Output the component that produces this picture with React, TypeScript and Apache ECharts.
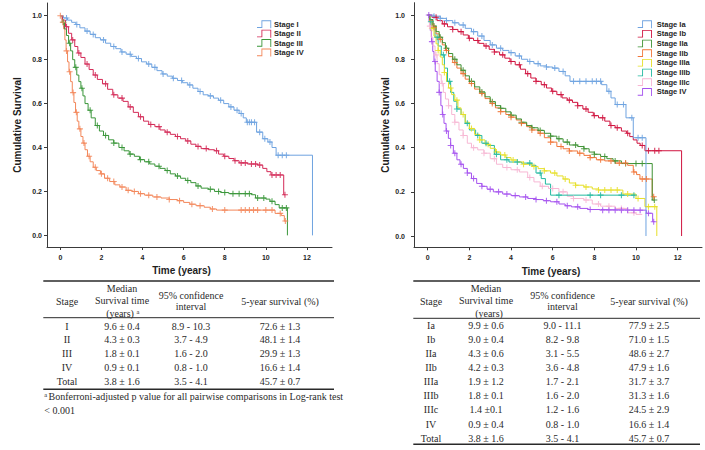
import React, { useEffect, useRef } from 'react';
import * as echarts from 'echarts';

type Pt = [number, number];

// ---------- Left panel (Stage I-IV) ----------
const leftNames = ['Stage I', 'Stage II', 'Stage III', 'Stage IV'];
const leftColors = ['#6fa3e0', '#d42a57', '#3a963a', '#f3875a'];

const leftStageI: Pt[] = [[0,1],[0.15,0.99],[0.35,0.98],[0.55,0.97],[0.75,0.96],[0.95,0.945],[1.2,0.93],[1.45,0.915],[1.7,0.9],[1.95,0.89],[2.2,0.875],[2.45,0.86],[2.7,0.85],[2.95,0.835],[3.2,0.825],[3.45,0.815],[3.7,0.805],[3.95,0.79],[4.2,0.78],[4.45,0.765],[4.7,0.75],[4.95,0.735],[5.2,0.725],[5.45,0.715],[5.7,0.705],[5.95,0.695],[6.2,0.685],[6.45,0.67],[6.7,0.655],[6.95,0.64],[7.2,0.635],[7.45,0.625],[7.7,0.615],[7.95,0.6],[8.2,0.585],[8.45,0.57],[8.7,0.555],[8.9,0.535],[9.05,0.515],[9.55,0.47],[9.85,0.44],[10.1,0.425],[10.3,0.4],[10.5,0.365],[12.27,0]];
const leftStageII: Pt[] = [[0,1],[0.1,0.98],[0.25,0.95],[0.4,0.92],[0.55,0.89],[0.7,0.86],[0.85,0.83],[1.0,0.81],[1.2,0.78],[1.4,0.755],[1.6,0.73],[1.8,0.71],[2.05,0.69],[2.3,0.665],[2.55,0.64],[2.8,0.625],[3.05,0.61],[3.3,0.585],[3.55,0.56],[3.8,0.54],[4.05,0.52],[4.3,0.505],[4.6,0.495],[4.85,0.48],[5.1,0.47],[5.35,0.46],[5.6,0.45],[5.85,0.44],[6.1,0.43],[6.35,0.415],[6.6,0.405],[6.85,0.395],[7.2,0.39],[7.5,0.385],[7.7,0.37],[7.95,0.36],[8.2,0.35],[8.45,0.34],[8.7,0.33],[9.1,0.325],[9.6,0.32],[9.85,0.305],[10.05,0.29],[10.25,0.275],[10.87,0.185],[10.95,0.185]];
const leftStageIII: Pt[] = [[0,1],[0.1,0.97],[0.2,0.94],[0.3,0.91],[0.4,0.875],[0.5,0.84],[0.6,0.8],[0.7,0.765],[0.8,0.73],[0.9,0.7],[1.0,0.67],[1.1,0.635],[1.2,0.6],[1.35,0.57],[1.5,0.535],[1.7,0.5],[1.9,0.475],[2.1,0.455],[2.35,0.435],[2.6,0.42],[2.85,0.4],[3.1,0.385],[3.35,0.37],[3.6,0.36],[3.85,0.345],[4.1,0.335],[4.35,0.325],[4.6,0.315],[4.85,0.305],[5.1,0.295],[5.35,0.28],[5.6,0.27],[5.85,0.26],[6.1,0.25],[6.35,0.24],[6.6,0.225],[6.85,0.215],[7.2,0.21],[7.5,0.2],[7.8,0.195],[8.2,0.19],[9.3,0.185],[9.5,0.17],[10.0,0.165],[10.2,0.155],[10.45,0.14],[10.65,0.125],[11.05,0]];
const leftStageIV: Pt[] = [[0,1],[0.08,0.97],[0.16,0.94],[0.22,0.89],[0.28,0.84],[0.35,0.79],[0.42,0.745],[0.5,0.7],[0.58,0.65],[0.66,0.605],[0.74,0.56],[0.82,0.52],[0.9,0.485],[1.0,0.45],[1.1,0.42],[1.2,0.39],[1.32,0.36],[1.45,0.335],[1.6,0.31],[1.75,0.295],[1.95,0.28],[2.15,0.26],[2.4,0.245],[2.65,0.23],[2.9,0.22],[3.2,0.205],[3.5,0.2],[3.8,0.19],[4.1,0.183],[4.5,0.175],[4.9,0.17],[5.3,0.163],[5.7,0.158],[6.0,0.15],[6.3,0.142],[6.6,0.135],[7.0,0.128],[7.3,0.12],[7.6,0.115],[10.45,0.1],[10.75,0.09],[10.9,0.065],[11.0,0.065]];

const leftCensorI = [0.3,0.8,1.3,1.6,2.1,2.6,3.0,3.4,3.8,4.3,4.6,5.0,5.5,5.9,6.3,6.8,7.3,7.8,8.3,8.6,8.8,9.1,9.2,9.3,9.45,9.7,9.95,10.2,10.6,10.8,11.0];
const leftCensorII = [0.3,0.6,0.9,1.3,1.7,2.2,2.6,3.0,3.4,3.9,4.4,4.8,5.2,5.7,6.2,6.7,7.1,7.6,8.0,8.5,8.8,9.0,9.3,9.5,9.7,10.3,10.5,10.7,10.93];
const leftCensorIII = [0.15,0.45,0.75,1.05,1.45,1.8,2.2,2.6,3.0,3.4,3.9,4.3,4.8,5.2,5.7,6.2,6.7,7.3,7.7,8.0,8.4,8.7,9.0,9.2,9.6,9.9,10.3,10.8,11.0];
const leftCensorIV = [0,0.12,0.3,0.45,0.62,0.78,0.95,1.15,1.4,1.7,2.0,2.3,2.6,3.0,3.3,3.6,3.9,4.3,4.7,5.3,5.8,6.4,6.8,7.4,8.0,8.8,9.0,9.2,9.4,9.6,10.0,10.3,10.7,10.95];

const leftCurves = [leftStageI, leftStageII, leftStageIII, leftStageIV];
const leftCensors = [leftCensorI, leftCensorII, leftCensorIII, leftCensorIV];

// ---------- Right panel (Stage Ia-IV) ----------
const rightNames = ['Stage Ia', 'Stage Ib', 'Stage IIa', 'Stage IIb', 'Stage IIIa', 'Stage IIIb', 'Stage IIIc', 'Stage IV'];
const rightColors = ['#6fa3e0', '#d0143f', '#3e9234', '#f1773a', '#e6df27', '#22b9a0', '#f7b7d4', '#a552ef'];

const rightStageIa: Pt[] = [[0,1],[0.3,0.995],[0.6,0.985],[0.9,0.975],[1.2,0.965],[1.5,0.955],[1.8,0.94],[2.1,0.925],[2.4,0.905],[2.7,0.885],[3.0,0.865],[3.3,0.85],[3.6,0.84],[3.9,0.83],[4.2,0.815],[4.5,0.8],[4.8,0.79],[5.1,0.78],[5.4,0.77],[5.7,0.765],[6.0,0.76],[6.3,0.745],[6.6,0.725],[6.83,0.7],[8.35,0.685],[8.6,0.655],[8.8,0.625],[9.0,0.595],[9.52,0.535],[9.87,0.445],[10.48,0]];
const rightStageIb: Pt[] = [[0,1],[0.2,0.99],[0.45,0.975],[0.7,0.96],[0.95,0.947],[1.2,0.935],[1.45,0.925],[1.7,0.91],[1.95,0.895],[2.2,0.885],[2.45,0.872],[2.7,0.86],[2.95,0.845],[3.2,0.833],[3.45,0.82],[3.7,0.805],[3.95,0.79],[4.2,0.775],[4.45,0.755],[4.7,0.735],[4.95,0.715],[5.2,0.7],[5.45,0.685],[5.7,0.67],[5.95,0.655],[6.2,0.64],[6.45,0.625],[6.7,0.615],[6.95,0.605],[7.2,0.59],[7.45,0.575],[7.7,0.56],[7.95,0.545],[8.2,0.535],[8.5,0.52],[8.75,0.5],[9.0,0.49],[9.3,0.475],[9.55,0.465],[9.7,0.45],[9.87,0.435],[10.05,0.42],[10.2,0.41],[10.43,0.386],[12.19,0]];
const rightStageIIa: Pt[] = [[0,1],[0.1,0.98],[0.25,0.95],[0.4,0.925],[0.55,0.9],[0.7,0.875],[0.85,0.85],[1.0,0.826],[1.2,0.8],[1.4,0.775],[1.6,0.75],[1.8,0.725],[2.0,0.7],[2.25,0.675],[2.5,0.652],[2.75,0.63],[3.0,0.608],[3.25,0.59],[3.5,0.578],[3.75,0.562],[4.0,0.547],[4.25,0.53],[4.5,0.515],[4.75,0.5],[5.0,0.49],[5.3,0.478],[5.6,0.465],[5.9,0.452],[6.2,0.44],[6.5,0.425],[6.8,0.412],[7.2,0.405],[7.5,0.395],[7.75,0.38],[8.0,0.37],[8.3,0.36],[8.6,0.35],[8.9,0.34],[9.3,0.328],[10.78,0.163],[10.9,0.163]];
const rightStageIIb: Pt[] = [[0,1],[0.1,0.975],[0.25,0.945],[0.4,0.915],[0.55,0.89],[0.7,0.865],[0.85,0.84],[1.0,0.812],[1.2,0.785],[1.4,0.76],[1.6,0.735],[1.8,0.71],[2.0,0.69],[2.25,0.665],[2.5,0.645],[2.75,0.622],[3.0,0.6],[3.25,0.58],[3.5,0.563],[3.75,0.55],[4.0,0.538],[4.25,0.525],[4.5,0.51],[4.75,0.495],[5.0,0.48],[5.3,0.465],[5.6,0.445],[5.9,0.425],[6.2,0.405],[6.5,0.395],[6.8,0.385],[7.2,0.375],[7.5,0.365],[7.8,0.355],[8.1,0.345],[8.5,0.34],[9.0,0.33],[9.6,0.32],[9.87,0.29],[10.03,0.278],[10.19,0.258],[10.78,0.178],[10.9,0.178]];
const rightStageIIIa: Pt[] = [[0,1],[0.1,0.97],[0.2,0.94],[0.3,0.905],[0.4,0.87],[0.5,0.84],[0.6,0.81],[0.7,0.775],[0.8,0.74],[0.9,0.7],[1.0,0.67],[1.15,0.64],[1.3,0.615],[1.45,0.58],[1.6,0.55],[1.8,0.515],[2.0,0.487],[2.25,0.46],[2.5,0.435],[2.75,0.415],[3.0,0.397],[3.25,0.38],[3.5,0.367],[3.75,0.355],[4.0,0.344],[4.3,0.335],[4.6,0.325],[5.0,0.315],[5.3,0.305],[5.6,0.295],[5.9,0.285],[6.2,0.272],[6.5,0.258],[6.8,0.24],[7.1,0.23],[7.5,0.222],[7.9,0.213],[8.2,0.208],[9.37,0.19],[10.0,0.17],[10.43,0.133],[11.0,0]];
const rightStageIIIb: Pt[] = [[0,1],[0.1,0.97],[0.2,0.94],[0.35,0.9],[0.5,0.86],[0.65,0.82],[0.8,0.76],[0.95,0.7],[1.1,0.65],[1.25,0.61],[1.4,0.575],[1.6,0.55],[1.8,0.51],[2.0,0.48],[2.3,0.455],[2.6,0.42],[2.9,0.41],[3.2,0.37],[3.5,0.345],[3.9,0.335],[4.5,0.33],[5.0,0.32],[5.2,0.285],[5.45,0.26],[5.65,0.235],[5.9,0.185],[9.95,0.185]];
const rightStageIIIc: Pt[] = [[0,1],[0.08,0.95],[0.16,0.9],[0.25,0.86],[0.35,0.82],[0.45,0.78],[0.55,0.73],[0.65,0.69],[0.75,0.65],[0.85,0.62],[1.0,0.59],[1.15,0.55],[1.3,0.515],[1.5,0.48],[1.7,0.455],[1.9,0.42],[2.1,0.4],[2.4,0.39],[2.7,0.375],[3.0,0.35],[3.3,0.325],[3.6,0.31],[4.0,0.3],[4.4,0.29],[4.8,0.265],[5.1,0.245],[5.4,0.225],[5.8,0.215],[6.3,0.2],[6.7,0.18],[7.0,0.17],[7.5,0.163],[7.9,0.145],[8.3,0.135],[9.0,0.125],[9.6,0.105],[10.0,0.098],[10.3,0.098]];
const rightStageIV: Pt[] = [[0,1],[0.06,0.97],[0.12,0.93],[0.18,0.88],[0.24,0.835],[0.3,0.79],[0.36,0.745],[0.45,0.7],[0.55,0.65],[0.63,0.59],[0.7,0.55],[0.78,0.51],[0.88,0.475],[0.99,0.442],[1.1,0.41],[1.23,0.375],[1.4,0.345],[1.55,0.325],[1.71,0.306],[1.9,0.285],[2.1,0.26],[2.35,0.238],[2.6,0.225],[2.85,0.212],[3.15,0.2],[3.6,0.19],[4.0,0.183],[4.4,0.177],[4.8,0.17],[5.2,0.165],[5.55,0.16],[5.9,0.155],[6.3,0.145],[6.6,0.137],[6.9,0.132],[7.3,0.125],[7.7,0.12],[8.3,0.117],[10.5,0.103],[10.8,0.065],[10.9,0.065]];

const rightCensorIa = [0.3,0.6,0.9,1.3,1.7,2.2,2.6,3.1,3.5,4.0,4.4,4.9,5.3,5.7,6.1,6.5,7.0,7.3,7.6,7.9,8.1,8.3,8.7,9.1,9.4,9.8,10.1,10.3];
const rightCensorIb = [0.4,0.8,1.2,1.6,2.0,2.4,2.8,3.2,3.6,4.0,4.4,4.8,5.2,5.6,6.0,6.4,6.8,7.2,7.6,8.0,8.4,8.8,9.1,9.6,10.3,10.6,10.9,11.1];
const rightCensorIIa = [0.3,0.6,0.9,1.3,1.7,2.1,2.6,3.1,3.5,4.0,4.5,5.0,5.4,5.9,6.3,6.7,7.1,7.5,8.0,8.5,9.0,9.5,10.0,10.3,10.88];
const rightCensorIIb = [0.3,0.6,0.9,1.3,1.7,2.1,2.6,3.1,3.5,4.0,4.5,5.0,5.4,5.9,6.4,6.8,7.3,7.8,8.3,8.8,9.2,9.5,9.9,10.3,10.5,10.85];
const rightCensorIIIa = [0.2,0.5,0.8,1.1,1.4,1.7,2.1,2.5,2.9,3.3,3.7,4.1,4.6,5.1,5.6,6.1,6.6,7.1,7.6,8.2,8.5,8.8,9.1,9.6,10.1,10.6,10.9];
const rightCensorIIIb = [0.15,0.45,0.75,1.05,1.4,1.9,2.4,2.8,3.3,3.8,4.3,4.9,5.4,6.3,7.8,8.3,9.3,9.9];
const rightCensorIIIc = [0.1,0.4,0.7,1.0,1.3,1.7,2.2,2.7,3.2,3.8,4.3,4.9,5.5,6.0,6.5,7.0,7.6,8.2,8.7,9.3,9.9];
const rightCensorIV = [0.05,0.2,0.35,0.55,0.72,0.9,1.1,1.3,1.6,1.9,2.2,2.6,3.0,3.4,3.8,4.2,4.7,5.2,5.7,6.2,6.7,7.2,7.8,8.4,8.7,9.0,9.3,9.6,9.9,10.2,10.6,10.85];

const rightCurves = [rightStageIa, rightStageIb, rightStageIIa, rightStageIIb, rightStageIIIa, rightStageIIIb, rightStageIIIc, rightStageIV];
const rightCensors = [rightCensorIa, rightCensorIb, rightCensorIIa, rightCensorIIb, rightCensorIIIa, rightCensorIIIb, rightCensorIIIc, rightCensorIV];

// ---------- Axis ticks ----------
const xTickValues = [0, 2, 4, 6, 8, 10, 12];
const yTickValues = [0, 0.2, 0.4, 0.6, 0.8, 1.0];

// ---------- Tables ----------
const leftTableHeader = ['Stage', 'Median|Survival time|(years)', '95% confidence|interval', '5-year survival (%)'];
const leftTableStages = ['I', 'II', 'III', 'IV', 'Total'];
const leftTableMedian = ['9.6 ± 0.4', '4.3 ± 0.3', '1.8 ± 0.1', '0.9 ± 0.1', '3.8 ± 1.6'];
const leftTableCI = ['8.9 - 10.3', '3.7 - 4.9', '1.6 - 2.0', '0.8 - 1.0', '3.5 - 4.1'];
const leftTable5yr = ['72.6 ± 1.3', '48.1 ± 1.4', '29.9 ± 1.3', '16.6 ± 1.4', '45.7 ± 0.7'];
const leftFootnote = ['Bonferroni-adjusted p value for all pairwise comparisons in Log-rank test', '< 0.001'];

const rightTableStages = ['Ia', 'Ib', 'IIa', 'IIb', 'IIIa', 'IIIb', 'IIIc', 'IV', 'Total'];
const rightTableMedian = ['9.9 ± 0.6', '9.0 ± 0.4', '4.3 ± 0.6', '4.2 ± 0.3', '1.9 ± 1.2', '1.8 ± 0.1', '1.4 ±0.1', '0.9 ± 0.4', '3.8 ± 1.6'];
const rightTableCI = ['9.0 - 11.1', '8.2 - 9.8', '3.1 - 5.5', '3.6 - 4.8', '1.7 - 2.1', '1.6 - 2.0', '1.2 - 1.6', '0.8 - 1.0', '3.5 - 4.1'];
const rightTable5yr = ['77.9 ± 2.5', '71.0 ± 1.5', '48.6 ± 2.7', '47.9 ± 1.6', '31.7 ± 3.7', '31.3 ± 1.6', '24.5 ± 2.9', '16.6 ± 1.4', '45.7 ± 0.7'];

// ---------- helpers ----------
function survivalAt(curve: Pt[], t: number): number {
  let s = curve[0][1];
  for (const [ti, si] of curve) {
    if (ti <= t) s = si;
    else break;
  }
  return s;
}

const plusSymbol = 'path://M4.1,0H5.9V4.1H10V5.9H5.9V10H4.1V5.9H0V4.1H4.1Z';
const stepIcon = 'path://M0,7.6L5,7.6L5,0L16,0L16,9L15,9L15,1L6,1L6,8.6L0,8.6Z';
const sansFont = "'Liberation Sans', Arial, sans-serif";
const serifFont = "'Liberation Serif', 'Times New Roman', serif";
const axisColor = '#3a3a3a';
const textColor = '#1e1e1e';
const tableColor = '#2a2a2a';

function isTick(v: number, list: number[]) {
  return list.some((t) => Math.abs(t - v) < 1e-6);
}

function makeAxes(gridIndex: number, xr: [number, number], yr: [number, number], yLabelMargin: number, nameGap: number, xNamePad: number) {
  const x = {
    type: 'value', gridIndex, min: xr[0], max: xr[1], splitNumber: 7, minInterval: 2, maxInterval: 2,
    name: 'Time (years)', nameLocation: 'middle', nameGap: 18,
    nameTextStyle: { fontFamily: sansFont, fontWeight: 'bold', fontSize: 10, color: textColor, padding: [0, xNamePad, 0, 0] },
    axisLine: { show: true, onZero: false, lineStyle: { color: axisColor, width: 1 } },
    axisTick: { show: true, length: 3, lineStyle: { color: axisColor } },
    axisLabel: {
      show: true, margin: 7, fontFamily: sansFont, fontWeight: 'bold', fontSize: 7, color: textColor,
      showMinLabel: false, showMaxLabel: false,
      formatter: (v: number) => (isTick(v, xTickValues) ? String(Math.round(v)) : ''),
    },
    splitLine: { show: false },
  };
  const y = {
    type: 'value', gridIndex, min: yr[0], max: yr[1], splitNumber: 5, minInterval: 0.2, maxInterval: 0.2,
    name: 'Cumulative Survival', nameLocation: 'middle', nameGap,
    nameTextStyle: { fontFamily: sansFont, fontWeight: 'bold', fontSize: 10, color: textColor },
    axisLine: { show: true, onZero: false, lineStyle: { color: axisColor, width: 1 } },
    axisTick: { show: true, length: 3, lineStyle: { color: axisColor } },
    axisLabel: {
      show: true, margin: yLabelMargin, fontFamily: sansFont, fontWeight: 'bold', fontSize: 7, color: textColor,
      showMinLabel: false, showMaxLabel: false,
      formatter: (v: number) => (isTick(v, yTickValues) ? v.toFixed(1) : ''),
    },
    splitLine: { show: false },
  };
  return { x, y };
}

function makeSeries(names: string[], keys: string[], colors: string[], curves: Pt[][], censors: number[][], axisIndex: number) {
  const out: any[] = [];
  curves.forEach((curve, i) => {
    out.push({
      type: 'line', name: keys[i], xAxisIndex: axisIndex, yAxisIndex: axisIndex,
      data: curve, step: 'end', showSymbol: false, symbol: 'none', silent: true,
      lineStyle: { color: colors[i], width: 1 }, itemStyle: { color: colors[i] },
      z: 2 + (curves.length - i) * 0.01,
    });
    const last = curve[curve.length - 1][0];
    out.push({
      type: 'scatter', name: names[i] + ' censored', xAxisIndex: axisIndex, yAxisIndex: axisIndex,
      data: censors[i].filter((t) => t <= last).map((t) => [t, survivalAt(curve, t)]),
      symbol: plusSymbol, symbolSize: 6, silent: true,
      itemStyle: { color: colors[i], opacity: 0.85 },
      z: 3,
    });
  });
  return out;
}

function txt(x: number, y: number, text: string, opts: any = {}) {
  return {
    type: 'text', x, y, silent: true,
    style: {
      text, fill: tableColor, fontFamily: serifFont, fontSize: 10,
      align: opts.align || 'center', verticalAlign: 'middle', ...opts.style,
    },
  };
}
function hline(x1: number, x2: number, y: number, w: number) {
  return { type: 'line', silent: true, shape: { x1, y1: y, x2, y2: y }, style: { stroke: tableColor, lineWidth: w } };
}

function buildTables() {
  const g: any[] = [];
  // left table
  g.push(hline(43.3, 334, 281, 1.6));
  g.push(hline(43.3, 334, 317.7, 1));
  g.push(hline(43.3, 334, 389.3, 1.6));
  const lc = [67, 122, 191, 280];
  g.push(txt(lc[0], 301, leftTableHeader[0]));
  const lm = leftTableHeader[1].split('|');
  g.push(txt(lc[1], 288.5, lm[0]));
  g.push(txt(lc[1], 300.8, lm[1]));
  g.push(txt(lc[1] - 2, 313.5, lm[2]));
  g.push(txt(lc[1] + 16, 311, 'a', { style: { fontSize: 6.5 } }));
  const lci = leftTableHeader[2].split('|');
  g.push(txt(lc[2], 295.5, lci[0]));
  g.push(txt(lc[2], 306.8, lci[1]));
  g.push(txt(lc[3], 301, leftTableHeader[3]));
  leftTableStages.forEach((s, i) => {
    const y = 326 + i * 13.9;
    g.push(txt(lc[0], y, s));
    g.push(txt(lc[1], y, leftTableMedian[i]));
    g.push(txt(lc[2], y, leftTableCI[i]));
    g.push(txt(lc[3], y, leftTable5yr[i]));
  });
  g.push(txt(44.3, 394.5, 'a', { align: 'left', style: { fontSize: 6.5 } }));
  g.push(txt(48.5, 396.8, leftFootnote[0], { align: 'left' }));
  g.push(txt(44.3, 410, leftFootnote[1], { align: 'left' }));

  // right table
  g.push(hline(413.3, 700, 281, 1.6));
  g.push(hline(413.3, 700, 318.3, 1));
  g.push(hline(413.3, 700, 444.3, 1.6));
  const rc = [431, 486, 562.5, 649];
  g.push(txt(rc[0], 301.5, leftTableHeader[0]));
  g.push(txt(rc[1], 288.5, lm[0]));
  g.push(txt(rc[1], 300.8, lm[1]));
  g.push(txt(rc[1] + 3, 313.5, lm[2]));
  g.push(txt(rc[2], 295.3, lci[0]));
  g.push(txt(rc[2], 306.8, lci[1]));
  g.push(txt(rc[3], 301.2, leftTableHeader[3]));
  rightTableStages.forEach((s, i) => {
    const y = 325 + i * 14.16;
    g.push(txt(rc[0], y, s));
    g.push(txt(rc[1], y, rightTableMedian[i]));
    g.push(txt(rc[2], y, rightTableCI[i]));
    g.push(txt(rc[3], y, rightTable5yr[i]));
  });
  return g;
}

function legendCfg(keys: string[], colors: string[], left: number, gap: number, textPad: number, labelOf: (k: string) => string) {
  return {
    data: keys.map((k, i) => ({ name: k, itemStyle: { color: colors[i], borderWidth: 0 } })),
    orient: 'vertical', left, top: 19.8, padding: 0,
    icon: stepIcon, itemWidth: 16, itemHeight: 8, itemGap: gap,
    selectedMode: false,
    itemStyle: { borderWidth: 0 },
    textStyle: { fontFamily: sansFont, fontWeight: 'bold', fontSize: 7.5, color: textColor, lineHeight: 9, padding: [0, 0, 0, textPad] },
    formatter: labelOf,
  };
}

export default function App() {
  const ref = useRef<HTMLDivElement>(null);
  useEffect(() => {
    if (!ref.current) return;
    const chart = echarts.init(ref.current, null, { renderer: 'svg' });
    const leftKeys = leftNames.map((n) => 'L:' + n);
    const rightKeys = rightNames.map((n) => 'R:' + n);
    const la = makeAxes(0, [-0.65, 13.22], [-0.053, 1.058], 5, 25, 16);
    const ra = makeAxes(1, [-0.66, 13.17], [-0.051, 1.056], 9, 24, 14);
    const option: any = {
      animation: false,
      backgroundColor: '#ffffff',
      grid: [
        { left: 47, top: 3, width: 285, height: 244, outerBoundsMode: 'none', containLabel: false },
        { left: 414, top: 2.7, width: 288, height: 244.6, outerBoundsMode: 'none', containLabel: false },
      ],
      xAxis: [la.x, ra.x],
      yAxis: [la.y, ra.y],
      legend: [
        legendCfg(leftKeys, leftColors, 257, 0.4, -3, (k) => k.slice(2)),
        legendCfg(rightKeys, rightColors, 637.7, 0.67, -1, (k) => k.slice(2)),
      ],
      series: [
        ...makeSeries(leftNames, leftKeys, leftColors, leftCurves, leftCensors, 0),
        ...makeSeries(rightNames, rightKeys, rightColors, rightCurves, rightCensors, 1),
      ],
      graphic: buildTables(),
    };
    chart.setOption(option);
    return () => chart.dispose();
  }, []);
  return <div ref={ref} style={{ position: 'absolute', left: 0, top: 0, width: 705, height: 450, background: '#fff' }} />;
}
